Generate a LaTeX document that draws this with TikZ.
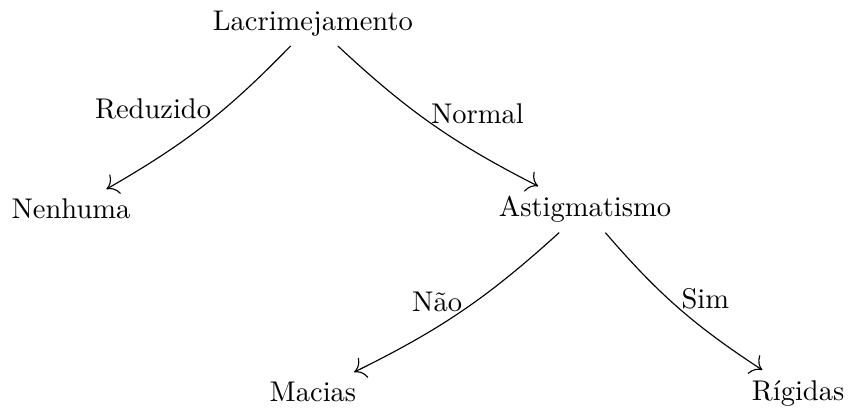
\documentclass[tikz,border=0pt]{standalone}
\usepackage{fontspec}
\usetikzlibrary{positioning, arrows.meta}

\begin{document}
\begin{tikzpicture}[
    every node/.style={anchor=base},
    ramo/.style={-{To[scale=1.5]}, bend angle=8},
    rotulo/.style={inner sep=4.5pt}
]
    \useasboundingbox (0,0) rectangle (10.456,-5.068);

    % --- Nodes ---

    % 1. Root
    \node (lacr) at (3.858, -0.370) {Lacrimejamento};

    % 2. First level
    \node (nenh) at (0.875, -2.700) {Nenhuma};
    \node (astig) at (7.213, -2.672) {Astigmatismo};

    % 3. Second level
    \node (macias) at (3.859, -4.953) {Macias};
    \node (rigidas) at (9.840, -4.932) {Rígidas};

    % --- Arrows ---

    % Lacrimejamento
    \draw[ramo] (lacr) to[bend left] node[rotulo, pos=0.38, anchor=east] {Reduzido} (nenh);
    \draw[ramo] (lacr) to[bend right] node[rotulo, pos=0.42, anchor=west] {Normal} (astig);

    % Astigmatismo
    \draw[ramo] (astig) to[bend left] node[rotulo, pos=0.43, anchor=east] {Não} (macias);
    \draw[ramo] (astig) to[bend right] node[rotulo, pos=0.43, anchor=west] {Sim} (rigidas);

\end{tikzpicture}
\end{document}
